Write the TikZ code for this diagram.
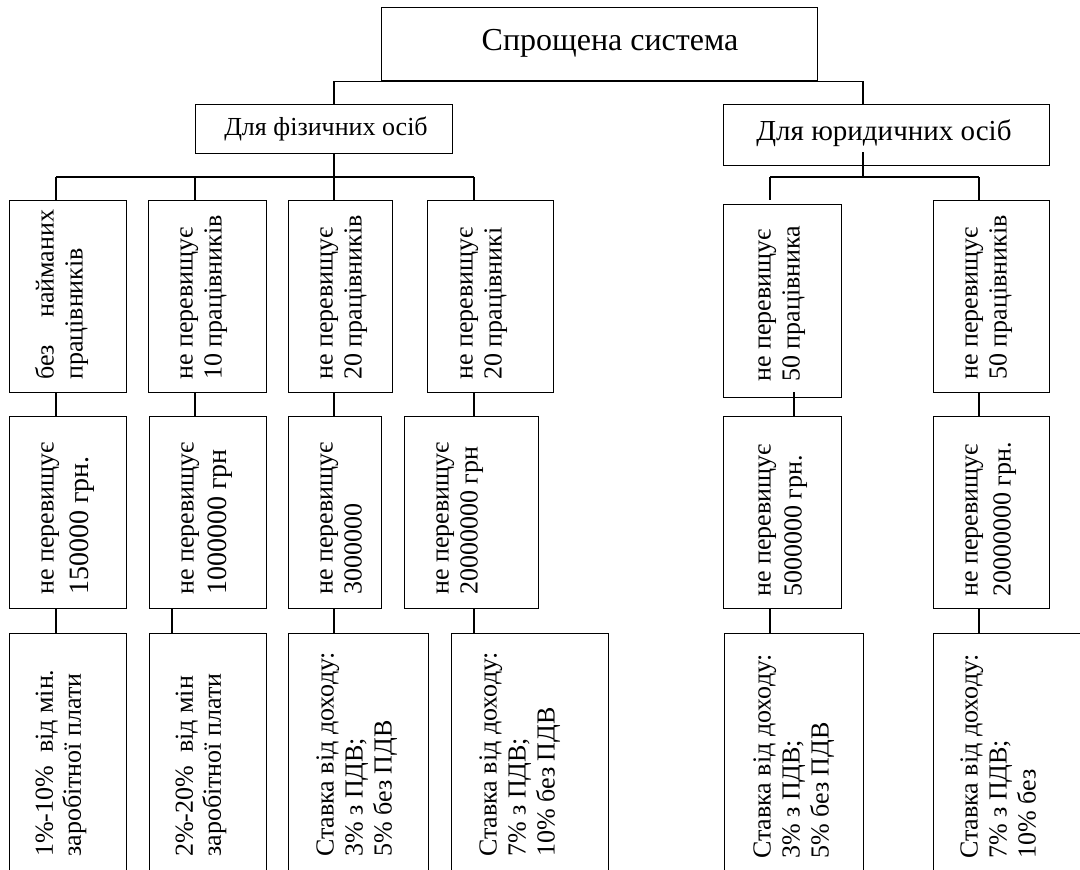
\documentclass[tikz,border=0pt]{standalone}
\usepackage{fontspec}
\setmainfont{Liberation Serif}
\tikzset{
  bx/.style={draw, line width=1.3pt, inner sep=0pt, anchor=north west},
  ln/.style={line width=1.3pt},
  vt/.style={rotate=90, anchor=north west, inner sep=0pt, align=left, font=\fontsize{26}{29}\selectfont},
  vtt/.style={rotate=90, anchor=north west, inner sep=0pt, align=left, font=\fontsize{26}{28}\selectfont},
  ht/.style={anchor=base, inner sep=0pt},
}
\newcommand\mkbox[5]{\node[bx, minimum width={#4-#2}, minimum height={#5-#3}] (#1) at (#2,#3) {};}
\begin{document}
\begin{tikzpicture}[x=1pt,y=-1pt]
\useasboundingbox (0,0) rectangle (1080,870);
\clip (0,0) rectangle (1080,870);
% column coordinates
\coordinate (k1) at (56,0);
\coordinate (k2) at (195,0);
\coordinate (k2b) at (172,0);
\coordinate (k3) at (334,0);
\coordinate (k4) at (474,0);
\coordinate (k5) at (770,0);
\coordinate (k5b) at (794,0);
\coordinate (k6) at (979,0);
\coordinate (kj) at (863,0);
\coordinate (h1) at (0,177);
% boxes
\mkbox{top}{381}{7}{817}{80}
\mkbox{fiz}{195}{104}{452}{153}
\mkbox{jur}{723}{104}{1049}{165}
\mkbox{r1a}{9}{200}{126}{392}
\mkbox{r1b}{148}{200}{266}{392}
\mkbox{r1c}{288}{200}{392}{392}
\mkbox{r1d}{427}{200}{553}{392}
\mkbox{r1e}{723}{204}{841}{397}
\mkbox{r1f}{933}{200}{1049}{392}
\mkbox{r2a}{9}{416}{126}{608}
\mkbox{r2b}{149}{416}{266}{608}
\mkbox{r2c}{288}{416}{381}{608}
\mkbox{r2d}{404}{416}{538}{608}
\mkbox{r2e}{723}{416}{841}{608}
\mkbox{r2f}{933}{416}{1049}{608}
\mkbox{r3a}{9}{633}{126}{900}
\mkbox{r3b}{149}{633}{266}{900}
\mkbox{r3c}{288}{633}{428}{900}
\mkbox{r3d}{451}{633}{608}{900}
\mkbox{r3e}{724}{633}{863}{900}
\mkbox{r3f}{933}{633}{1100}{900}
% horizontal labels
\node[ht, font=\fontsize{32}{36}\selectfont] (ttop) at (610,50) {Спрощена система};
\node[ht, font=\fontsize{26}{30}\selectfont] (tfiz) at (326,135) {Для фізичних осіб};
\node[ht, font=\fontsize{29}{32}\selectfont] (tjur) at (884,140) {Для юридичних осіб};
% row 1 texts
\node[vt] (t1a) at (33,380) {\strut без\hspace{27pt}найманих\\працівників};
\node[vt] (t1b) at (172,380) {\strut не перевищує\\10 працівників};
\node[vt] (t1c) at (312,380) {\strut не перевищує\\20 працівників};
\node[vt] (t1d) at (452,380) {\strut не перевищує\\20 працівникі};
\node[vt] (t1e) at (750,382) {\strut не перевищує\\50 працівника};
\node[vt] (t1f) at (957,380) {\strut не перевищує\\50 працівників};
% row 2 texts
\node[vt] (t2a) at (33,595) {\strut не перевищує\\[6pt]{\fontsize{28}{31}\selectfont 150000 грн.}};
\node[vt] (t2b) at (173,595) {\strut не перевищує\\[4pt]{\fontsize{28}{31}\selectfont 1000000 грн}};
\node[vt] (t2c) at (312,595) {\strut не перевищує\\3000000};
\node[vt] (t2d) at (428,595) {\strut не перевищує\\20000000 грн};
\node[vt] (t2e) at (750,597) {\strut не перевищує\\[2pt]5000000 грн.};
\node[vt] (t2f) at (957,597) {\strut не перевищує\\[4pt]20000000 грн.};
% row 3 texts
\node[vtt] (t3a) at (33,857) {\strut 1\%-10\%\ \ від мін.\\заробітної плати};
\node[vtt] (t3b) at (173,857) {\strut 2\%-20\%\ \ від мін\\заробітної плати};
\node[vt] (t3c) at (313,857) {\strut Ставка від доходу:\\3\% з ПДВ;\\5\% без ПДВ};
\node[vt] (t3d) at (476,857) {\strut Ставка від доходу:\\7\% з ПДВ;\\10\% без ПДВ};
\node[vt] (t3e) at (750,859) {\strut Ставка від доходу:\\3\% з ПДВ;\\5\% без ПДВ};
\node[vt] (t3f) at (957,859) {\strut Ставка від доходу:\\7\% з ПДВ;\\10\% без};
% connectors: top level
\draw[ln] (fiz.north -| k3) -- (k3 |- top.south) -- (kj |- top.south) -- (jur.north -| kj);
% physical persons branch
\draw[ln] (fiz.south -| k3) -- (k3 |- h1);
\draw[ln] (k1 |- h1) -- (k4 |- h1);
\draw[ln] (k1 |- h1) -- (r1a.north -| k1);
\draw[ln] (k2 |- h1) -- (r1b.north -| k2);
\draw[ln] (k3 |- h1) -- (r1c.north -| k3);
\draw[ln] (k4 |- h1) -- (r1d.north -| k4);
% legal persons branch
\coordinate (js) at (863,152);
\coordinate (jg) at (770,200);
\draw[ln] (js) -- (kj |- h1);
\draw[ln] (k5 |- h1) -- (k6 |- h1);
\draw[ln] (k5 |- h1) -- (jg);
\draw[ln] (k6 |- h1) -- (r1f.north -| k6);
% row1 -> row2
\draw[ln] (r1a.south -| k1) -- (r2a.north -| k1);
\draw[ln] (r1b.south -| k2) -- (r2b.north -| k2);
\draw[ln] (r1c.south -| k3) -- (r2c.north -| k3);
\draw[ln] (r1d.south -| k4) -- (r2d.north -| k4);
\coordinate (js2) at (794,392);
\draw[ln] (js2) -- (r2e.north -| k5b);
\draw[ln] (r1f.south -| k6) -- (r2f.north -| k6);
% row2 -> row3
\draw[ln] (r2a.south -| k1) -- (r3a.north -| k1);
\draw[ln] (r2b.south -| k2b) -- (r3b.north -| k2b);
\draw[ln] (r2c.south -| k3) -- (r3c.north -| k3);
\draw[ln] (r2d.south -| k4) -- (r3d.north -| k4);
\draw[ln] (r2e.south -| k5) -- (r3e.north -| k5);
\draw[ln] (r2f.south -| k6) -- (r3f.north -| k6);
\end{tikzpicture}
\end{document}
